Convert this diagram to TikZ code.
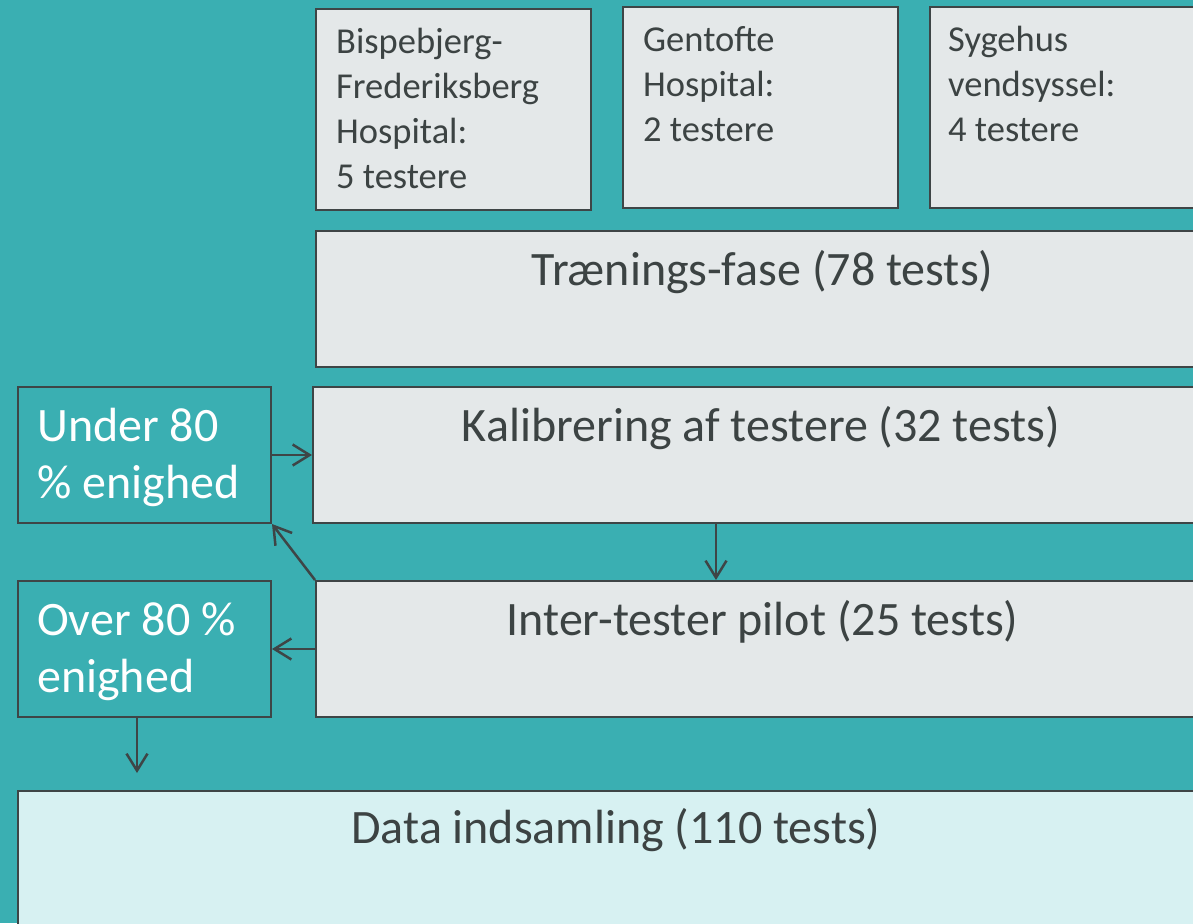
\documentclass[tikz,border=0pt]{standalone}
\usepackage{fontspec}
\setmainfont{Carlito}
\usetikzlibrary{calc, positioning, arrows.meta}
\definecolor{bgteal}{HTML}{3AAFB2}
\definecolor{boxgray}{HTML}{E4E8E9}
\definecolor{datafill}{HTML}{D7F1F2}
\definecolor{edgegray}{HTML}{3E4546}
\definecolor{textgray}{HTML}{3C4343}

\begin{document}
\begin{tikzpicture}[x=1pt, y=-1pt]

\pgfmathsetmacro{\BW}{275}
\pgfmathsetmacro{\BH}{201}
\pgfmathsetmacro{\PH}{136}

\tikzset{
  hbox/.style={draw=edgegray, fill=boxgray, line width=2pt, anchor=north west, minimum width=\BW pt, minimum height=\BH pt, inner sep=0pt},
  pbox/.style={draw=edgegray, fill=boxgray, line width=2pt, anchor=north west, minimum height=\PH pt, inner sep=0pt},
  sbox/.style={draw=edgegray, fill=bgteal, line width=2pt, anchor=north west, minimum width=253pt, minimum height=\PH pt, inner sep=0pt},
  htext/.style={anchor=base west, inner sep=0pt, align=left, text=textgray, font=\fontsize{36.5}{45}\selectfont},
  ptext/.style={anchor=base, inner sep=0pt, text=textgray, font=\fontsize{48}{57}\selectfont},
  stext/.style={anchor=base west, inner sep=0pt, align=left, text=white, font=\fontsize{48}{57}\selectfont},
  link/.style={draw=edgegray, line width=2.5pt, -{Straight Barb[length=17pt, width=21pt]}},
}

\useasboundingbox (0,0) rectangle (1193,923);
\clip (0,0) rectangle (1193,923);
\fill [bgteal] (0,0) rectangle (1193,923);

% hospitals (text anchored on its last line)
\node [hbox] (bfh) at (315,8) {};
\node [htext] at ($(bfh.north west) + (21,180)$) {Bispebjerg-\\Frederiksberg\\Hospital:\\5 testere};
\node [hbox] (gh) at (622,6) {};
\node [htext] at ($(gh.north west) + (21,136)$) {Gentofte\\Hospital:\\2 testere};
\node [hbox] (sv) at (929,6) {};
\node [htext] at ($(sv.north west) + (19,136)$) {Sygehus\\vendsyssel:\\4 testere};

% phases
\node [pbox, minimum width=893pt] (train) at (315,230) {};
\node [ptext] at ($(train.north) + (0,55)$) {Trænings-fase (78 tests)};
\node [pbox, minimum width=896pt] (kal) at (312,386) {};
\node [ptext] at ($(kal.north) + (0,55)$) {Kalibrering af testere (32 tests)};
\node [pbox, minimum width=893pt] (inter) at (315,580) {};
\node [ptext] at ($(inter.north) + (0,55)$) {Inter-tester pilot (25 tests)};
\node [pbox, fill=datafill, minimum width=1196pt, minimum height=200pt] (data) at (17,790) {};
\node [ptext] at ($(data.north) + (0,53)$) {Data indsamling (110 tests)};

% agreement
\node [sbox] (under) at (17,386) {};
\node [stext] at ($(under.north west) + (20,112)$) {Under 80\\\% enighed};
\node [sbox] (over) at (17,580) {};
\node [stext] at ($(over.north west) + (20,112)$) {Over 80 \%\\enighed};

\coordinate (kx) at (716,0);
\coordinate (ox) at (137,773);

\draw [link] (under.east) -- (kal.west);
\draw [link] (kal.south -| kx) -- (inter.north -| kx);
\draw [link] (inter.north west) -- (under.south east);
\draw [link] (inter.west) -- (over.east);
\draw [link] (over.south -| ox) -- (ox);

\end{tikzpicture}
\end{document}
